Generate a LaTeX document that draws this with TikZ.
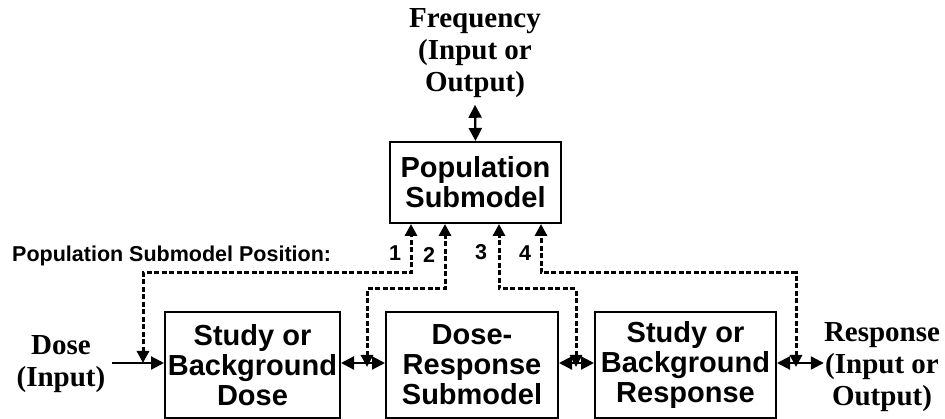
\documentclass[tikz,border=0pt]{standalone}
\usepackage{fontspec}
\setmainfont{Liberation Serif}
\setsansfont{Liberation Sans}
\usetikzlibrary{arrows.meta,calc}

\begin{document}
\begin{tikzpicture}[x=1pt,y=-1pt,
  box/.style={draw,line width=2pt,inner sep=0pt,align=center,
    font=\sffamily\bfseries\fontsize{29}{30}\selectfont},
  lbl/.style={align=center,inner sep=0pt,
    font=\rmfamily\bfseries\fontsize{29}{32}\selectfont},
  num/.style={inner sep=0pt,font=\sffamily\bfseries\fontsize{21.5}{22}\selectfont},
  arr/.style={-{Triangle[length=13pt,width=13pt]},line width=2.2pt},
  dbl/.style={{Triangle[length=13pt,width=13pt]}-{Triangle[length=13pt,width=13pt]},line width=2.2pt},
  dsh/.style={{Triangle[length=12pt,width=12pt]}-{Triangle[length=12pt,width=12pt]},
    line width=3pt,dash pattern=on 5pt off 2.5pt}]
  \useasboundingbox (0,0) rectangle (945,419);
  % boxes
  \node[box,minimum width=171pt,minimum height=81pt] (pop) at (475.5,182.5) {Population\\Submodel};
  \node[box,minimum width=175pt,minimum height=105pt] (sbd) at (252.5,365) {Study or\\Background\\Dose};
  \node[box,minimum width=172pt,minimum height=105pt] (dr) at (472,365) {Dose-\\Response\\Submodel};
  \node[box,minimum width=181pt,minimum height=105pt] (sbr) at (685.5,365) {Study or\\Background\\Response};
  % outer labels
  \node[lbl] (freq) at (475,53) {Frequency\\(Input or\\Output)};
  \node[lbl] (dose) at (61,364) {Dose\\(Input)};
  \node[lbl] (resp) at (882,367) {Response\\(Input or\\Output)};
  \node[num,anchor=west] (pos) at (12,256) {Population Submodel Position:};
  \node[num] (n1) at (395,253) {1};
  \node[num] (n2) at (429,255) {2};
  \node[num] (n3) at (481,252) {3};
  \node[num] (n4) at (525,253) {4};
  % solid connectors
  \draw[dbl] ([yshift=-7pt]freq.south) -- (pop.north);
  \draw[arr] (112,363) coordinate (d0) -- (d0 -| sbd.west);
  \draw[dbl] ([yshift=2pt]sbd.east) -- ([yshift=2pt]dr.west);
  \draw[dbl] ([yshift=2pt]dr.east) -- ([yshift=2pt]sbr.west);
  \draw[dbl] ([yshift=2pt]sbr.east) coordinate (r0) -- (r0 -| resp.west);
  % positions of the population submodel
  \coordinate (p1) at (143,363);
  \coordinate (p2) at (367,367);
  \coordinate (p3) at (576,367);
  \coordinate (p4) at (796,367);
  \draw[dsh] (p1) |- (411,273) -- ([xshift=-64.5pt]pop.south);
  \draw[dsh] (p2) |- (445,289) -- ([xshift=-30.5pt]pop.south);
  \draw[dsh] (p3) |- (499,289) -- ([xshift=23.5pt]pop.south);
  \draw[dsh] (p4) |- (541,273) -- ([xshift=65.5pt]pop.south);
\end{tikzpicture}
\end{document}
